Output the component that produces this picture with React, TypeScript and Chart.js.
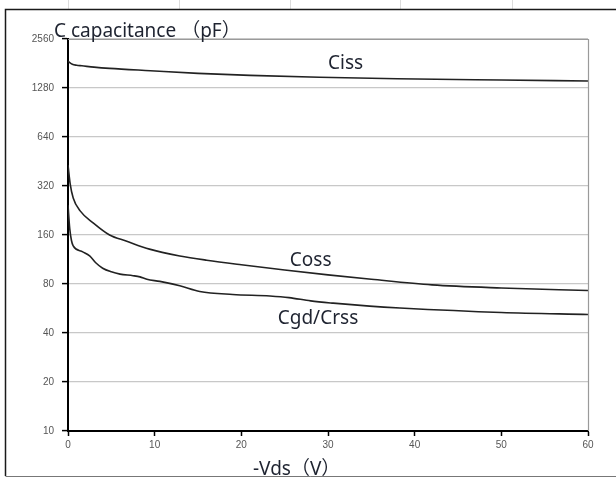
import React, { useEffect, useRef } from "react";
import { Chart, registerables } from "chart.js";

Chart.register(...registerables);

// ---- data ----
const xTicks = [0, 10, 20, 30, 40, 50, 60];
const yTicks = [10, 20, 40, 80, 160, 320, 640, 1280, 2560];

const cissV = [0, 0.5, 1, 1.6, 3, 4.8, 9.5, 15, 21, 29, 38, 50, 60];
const cissC = [1870, 1790, 1765, 1752, 1720, 1690, 1635, 1575, 1530, 1490, 1460, 1433, 1413];

const cossV = [0, 0.25, 0.6, 1.4, 2.9, 4.8, 6.7, 9.4, 12.9, 16, 20, 25, 30, 35, 42, 50, 60];
const cossC = [430, 330, 270, 225, 190, 160, 147, 131, 119, 112, 105, 97.5, 91, 85.5, 79, 75.6, 73];

const cgdV = [0, 0.2, 0.4, 0.6, 1.7, 2.5, 3.2, 4.0, 5, 6, 7.5, 8.3, 9.1, 10.6, 12.9, 15.2, 19, 23.3, 25.5, 28, 30.6, 34.8, 38.3, 50, 60];
const cgdC = [244, 175, 148, 137, 126, 119, 108, 100, 95, 92, 90, 88.5, 85.5, 83, 78, 72, 69, 67.5, 66, 63, 61, 58.5, 57, 53.5, 52];

const seriesNames = ["Ciss", "Coss", "Cgd/Crss"];
// label anchor (left, baseline) in data units
const labelV = [30, 25.6, 24.2];
const labelC = [1675, 103, 45.4];

const yTitle = "C capacitance （pF）";
const xTitle = "-Vds（V）";

const toPts = (xs: number[], ys: number[]) => xs.map((x, i) => ({ x, y: ys[i] }));

const TEXT_FONT = '19px "Noto Sans", "Noto Sans CJK SC", sans-serif';
const TEXT_COLOR = "#1e2330";

const decorPlugin = {
  id: "decor",
  beforeDraw(chart: any) {
    const { ctx, width, height } = chart;
    ctx.save();
    ctx.fillStyle = "#ffffff";
    ctx.fillRect(0, 0, width, height);
    // faint spreadsheet cell lines above the frame
    ctx.strokeStyle = "#dcdcdc";
    ctx.lineWidth = 1;
    [68, 179, 290, 400, 512].forEach((x) => {
      ctx.beginPath();
      ctx.moveTo(x + 0.5, 0);
      ctx.lineTo(x + 0.5, 9);
      ctx.stroke();
    });
    // outer frame
    ctx.strokeStyle = "#1a1a1a";
    ctx.lineWidth = 1.5;
    ctx.beginPath();
    ctx.moveTo(width + 2, 9.5);
    ctx.lineTo(5.5, 9.5);
    ctx.lineTo(5.5, 476);
    ctx.stroke();
    ctx.strokeStyle = "#777";
    ctx.lineWidth = 1;
    ctx.beginPath();
    ctx.moveTo(5.5, 476.5);
    ctx.lineTo(width, 476.5);
    ctx.stroke();
    ctx.restore();
  },
  afterDraw(chart: any) {
    const { ctx, chartArea } = chart;
    const xs = chart.scales.x;
    const ys = chart.scales.y;
    ctx.save();
    // plot area right/top border
    ctx.strokeStyle = "#9a9a9a";
    ctx.lineWidth = 1.2;
    ctx.beginPath();
    ctx.moveTo(chartArea.left, chartArea.top + 0.5);
    ctx.lineTo(chartArea.right + 0.5, chartArea.top + 0.5);
    ctx.lineTo(chartArea.right + 0.5, chartArea.bottom);
    ctx.stroke();
    // titles
    ctx.fillStyle = TEXT_COLOR;
    ctx.font = TEXT_FONT;
    ctx.textAlign = "left";
    ctx.textBaseline = "alphabetic";
    ctx.fillText(yTitle, chartArea.left - 14, chartArea.top - 2);
    ctx.fillText(xTitle, 253, 475);
    // curve labels
    seriesNames.forEach((name, i) => {
      ctx.fillText(name, xs.getPixelForValue(labelV[i]), ys.getPixelForValue(labelC[i]));
    });
    ctx.restore();
  },
};

export default function App() {
  const ref = useRef<HTMLCanvasElement | null>(null);

  useEffect(() => {
    if (!ref.current) return;
    const lineStyle = {
      borderColor: "#222222",
      borderWidth: 1.6,
      pointRadius: 0,
      fill: false,
      cubicInterpolationMode: "monotone" as const,
    };
    const chart = new Chart(ref.current, {
      type: "line",
      data: {
        datasets: [
          { label: seriesNames[0], data: toPts(cissV, cissC), ...lineStyle },
          { label: seriesNames[1], data: toPts(cossV, cossC), ...lineStyle },
          { label: seriesNames[2], data: toPts(cgdV, cgdC), ...lineStyle },
        ],
      },
      options: {
        animation: false,
        responsive: false,
        devicePixelRatio: 1,
        layout: { padding: { top: 39, right: 28, left: 0, bottom: 0 } },
        plugins: { legend: { display: false }, tooltip: { enabled: false } },
        scales: {
          x: {
            type: "linear",
            min: 0,
            max: 60,
            afterBuildTicks: (s: any) => {
              s.ticks = xTicks.map((v) => ({ value: v }));
            },
            afterFit: (s: any) => {
              s.height = 46;
            },
            grid: {
              drawOnChartArea: false,
              drawTicks: true,
              tickLength: 5,
              tickColor: "#000",
              tickWidth: 1.5,
            },
            border: { color: "#000", width: 2 },
            ticks: {
              padding: 3,
              maxRotation: 0,
              autoSkip: false,
              color: "#555",
              font: { family: "Liberation Sans", size: 10 },
              callback: (v: any) => String(v),
            },
          },
          y: {
            type: "logarithmic",
            min: 10,
            max: 2560,
            afterBuildTicks: (s: any) => {
              s.ticks = yTicks.map((v) => ({ value: v }));
            },
            afterFit: (s: any) => {
              s.width = 68;
            },
            grid: {
              color: "#c8c8c8",
              lineWidth: 1.2,
              drawTicks: true,
              tickLength: 6,
              tickColor: "#000",
              tickWidth: 1.5,
            },
            border: { color: "#000", width: 2 },
            ticks: {
              padding: 8,
              autoSkip: false,
              color: "#555",
              font: { family: "Liberation Sans", size: 10 },
              callback: (v: any) => String(v),
            },
          },
        },
      },
      plugins: [decorPlugin],
    } as any);
    return () => chart.destroy();
  }, []);

  return (
    <div style={{ position: "fixed", left: 0, top: 0, width: 616, height: 477, background: "#fff" }}>
      <canvas ref={ref} width={616} height={477} style={{ display: "block", width: 616, height: 477 }} />
    </div>
  );
}
